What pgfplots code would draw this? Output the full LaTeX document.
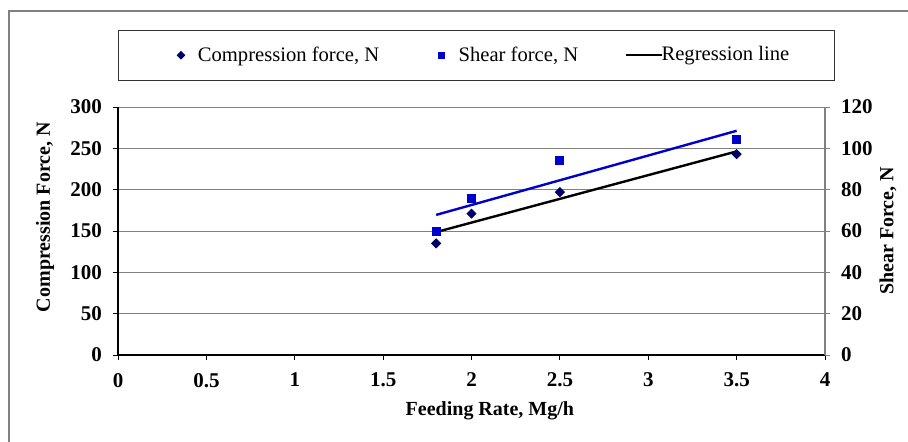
\documentclass[border=0pt]{standalone}
\usepackage{fontspec}
\setmainfont{Liberation Serif}
\usepackage{pgfplots}
\pgfplotsset{compat=1.18}
\definecolor{navyd}{RGB}{0,0,102}
\definecolor{shearblue}{RGB}{0,0,204}
\definecolor{gridgray}{RGB}{128,128,128}
\pgfplotsset{
  diamondleg/.style={legend image code/.code={\path (-10.5pt,0pt) (6.2pt,0pt);
    \draw[##1, mark size=1.3pt] plot coordinates {(0pt,0pt)};}},
  squareleg/.style={legend image code/.code={\path (-9pt,0pt) (6.2pt,0pt);
    \draw[##1] plot coordinates {(0pt,0pt)};}},
  lineleg/.style={legend image code/.code={\path (-1.5pt,0pt) (15pt,0pt);
    \draw[overlay, ##1] (0pt,0pt) -- (18pt,0pt);}},
}
\begin{document}
\begin{tikzpicture}
\useasboundingbox (0,0) rectangle (454pt,220.5pt);
\fill[white] (0,0) rectangle (454pt,220.5pt);
\draw[gridgray, line width=0.7pt] (4.5pt,-2pt) -- (4.5pt,215pt) -- (456pt,215pt);
\begin{axis}[
  at={(59pt,43pt)}, anchor=south west,
  scale only axis, width=353.5pt, height=124pt,
  xmin=0, xmax=4, ymin=0, ymax=300,
  xtick={0,0.5,1,1.5,2,2.5,3,3.5,4},
  ytick={0,50,100,150,200,250,300},
  axis y line*=left, axis x line*=bottom,
  axis line style={black, line width=0.6pt},
  tick align=outside, major tick length=2.5pt,
  tick style={black, line width=0.5pt},
  ymajorgrids, grid style={gridgray, line width=0.5pt},
  /pgf/number format/assume math mode=true,
  ticklabel style={font=\fontsize{10.5}{12}\selectfont\bfseries},
  yticklabel style={xshift=-2pt},
  xticklabel style={yshift=-3pt},
  xlabel={Feeding Rate, Mg/h},
  ylabel={Compression Force, N},
  label style={font=\fontsize{10}{12}\selectfont\bfseries},
  xlabel style={at={(axis description cs:0.526,-0.226)}, anchor=center},
  ylabel style={at={(axis description cs:-0.1033,0.556)}, anchor=center, rotate=0},
  legend columns=3,
  legend style={at={(axis description cs:0,1.3105)}, anchor=north west,
    draw=black!80, line width=0.5pt, inner xsep=20.5pt, inner ysep=6pt,
    font=\fontsize{10.3}{12}\selectfont,
    /tikz/every even column/.append style={column sep=20pt}},
]
\addplot[only marks, mark=square*, mark size=1.6pt, color=navyd,
  mark options={rotate=45, fill=navyd}, diamondleg]
  coordinates {(1.8,135) (2,171) (2.5,197) (3.5,243)};
\addlegendentry{Compression force, N}
\addlegendimage{only marks, mark=square*, mark size=1.5pt, color=shearblue,
  mark options={fill=shearblue}, squareleg}
\addlegendentry{Shear force, N}
\addplot[black, line width=1.2pt, lineleg]
  coordinates {(1.8,148.7) (3.5,246.3)};
\addlegendentry{Regression line}
\end{axis}
\begin{axis}[
  at={(59pt,43pt)}, anchor=south west,
  scale only axis, width=353.5pt, height=124pt,
  xmin=0, xmax=4, ymin=0, ymax=120,
  ytick={0,20,40,60,80,100,120},
  axis y line*=right, axis x line=none,
  y axis line style={gridgray, line width=0.6pt},
  tick align=outside, major tick length=2.5pt,
  ytick style={gridgray, line width=0.5pt},
  /pgf/number format/assume math mode=true,
  ticklabel style={font=\fontsize{10.5}{12}\selectfont\bfseries},
  yticklabel style={xshift=2pt},
  ylabel={Shear Force, N},
  label style={font=\fontsize{10}{12}\selectfont\bfseries},
  ylabel style={at={(axis description cs:1.089,0.5)}, anchor=center, rotate=0},
]
\addplot[only marks, mark=square*, mark size=2pt, color=shearblue,
  mark options={fill=shearblue}] coordinates {(1.8,60) (2,76) (2.5,94) (3.5,104.5)};
\addplot[shearblue, line width=1.2pt] coordinates {(1.8,67.8) (3.5,108.5)};
\end{axis}
\end{tikzpicture}
\end{document}
